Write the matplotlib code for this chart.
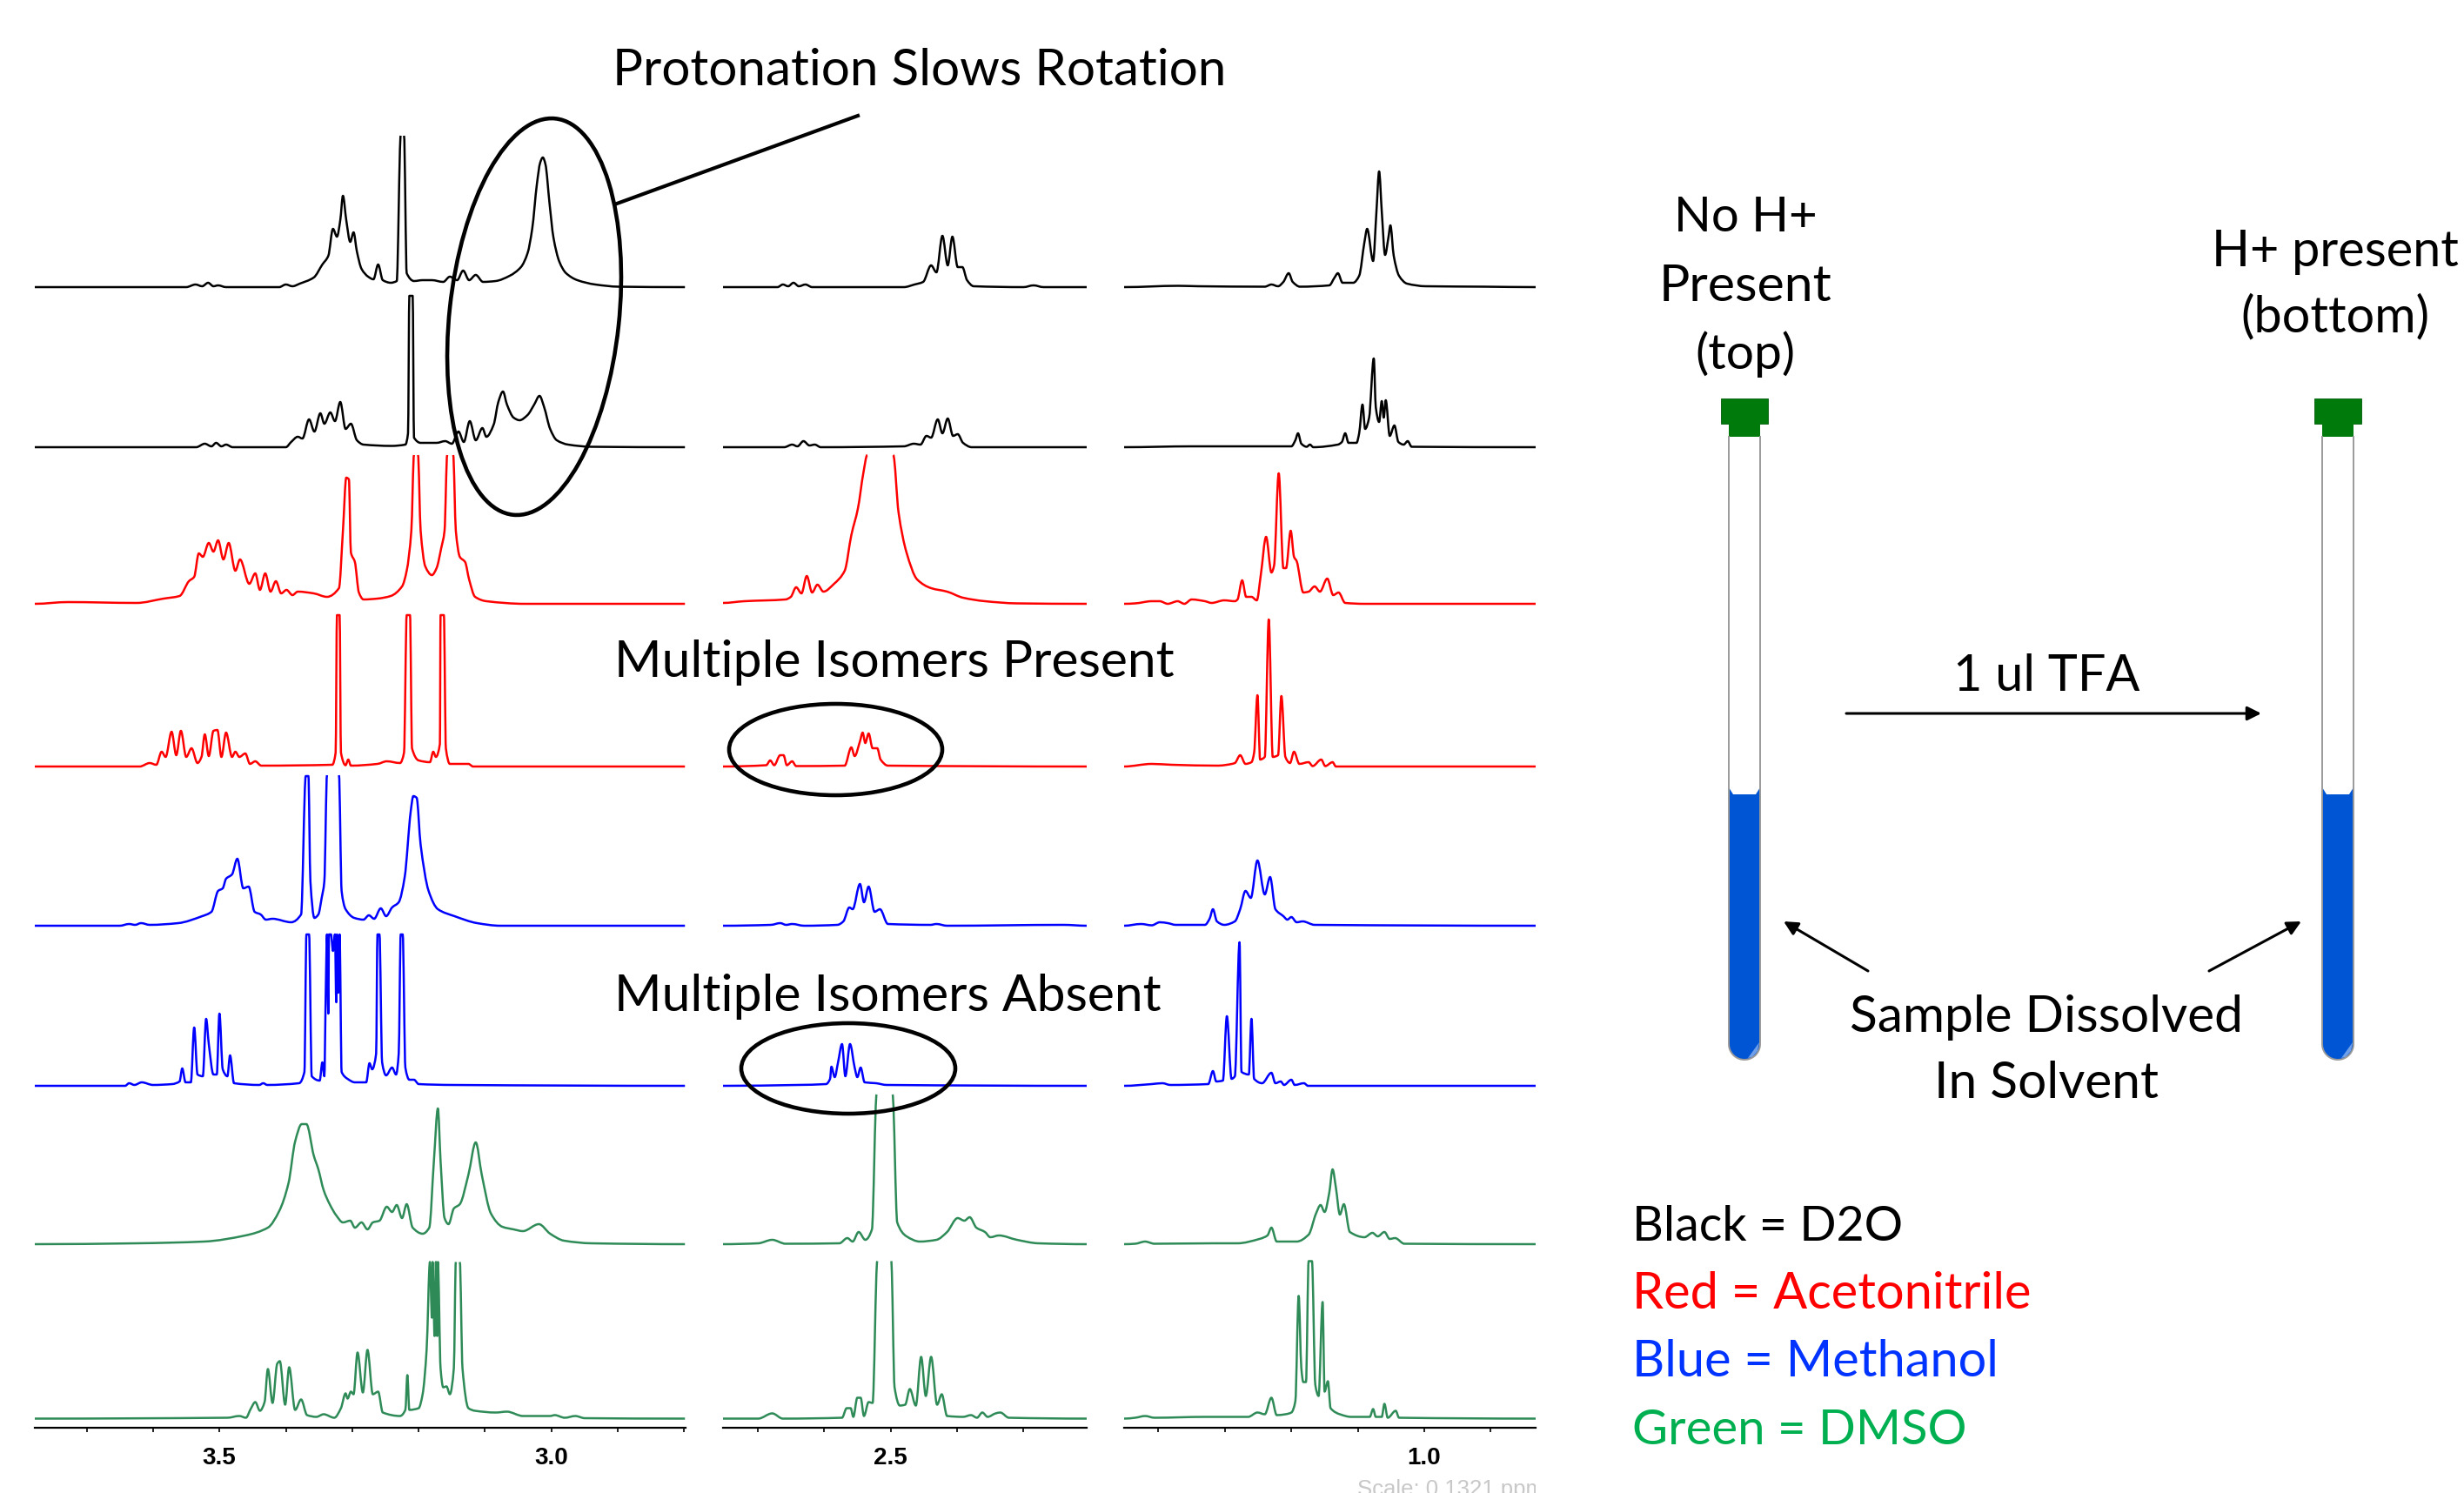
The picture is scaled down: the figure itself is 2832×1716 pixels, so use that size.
import numpy as np
import matplotlib
matplotlib.use('Agg')
import matplotlib.pyplot as plt
from matplotlib.patches import Ellipse, Polygon, Rectangle, PathPatch
from matplotlib.path import Path
from matplotlib.transforms import Bbox, TransformedBbox

nan = float('nan')
gap = (nan, nan)

# spectra: (ppm, height above the trace's own baseline)
# names: solvent, a = top trace (no acid) / b = with acid, panel 1-3
d2o_a_1 = [(3.778,0),(3.55,0),(3.536,3),(3.526,1),(3.517,5),(3.509,1),(3.502,2),(3.49,0),(3.41,0),(3.40,3),(3.39,1),(3.379,4),(3.358,11),(3.345,26),(3.336,36),(3.329,67),(3.323,58),(3.318,77),(3.314,105),(3.309,77),(3.303,52),(3.298,63),(3.293,41),(3.286,21),(3.276,12),(3.268,9),(3.261,26),(3.254,8),(3.242,5),(3.233,7),(3.227,174),gap,(3.222,174),(3.218,16),(3.207,7),(3.194,8),(3.18,8),(3.163,6),(3.153,12),(3.142,8),(3.133,19),(3.124,8),(3.114,14),(3.103,6),(3.084,7),(3.063,13),(3.046,23),(3.036,39),(3.029,67),(3.022,118),(3.017,143),(3.013,149),(3.009,141),(3.003,97),(2.997,57),(2.988,29),(2.978,16),(2.961,8),(2.934,3),(2.899,0.5),(2.799,0)]
d2o_a_2 = [(2.752,0),(2.67,0),(2.662,3),(2.654,1),(2.646,5),(2.638,1),(2.628,3),(2.618,0),(2.48,0),(2.464,3),(2.451,6),(2.439,25),(2.431,17),(2.422,59),(2.414,25),(2.407,58),(2.399,23),(2.392,23),(2.385,8),(2.375,1),(2.30,0),(2.285,2),(2.27,0),(2.205,0)]
d2o_a_3 = [(1.4516,0),(1.37,1.5),(1.34,1),(1.24,0.5),(1.23,3),(1.22,1),(1.212,6),(1.204,16),(1.198,6),(1.187,0.5),(1.143,2),(1.135,11),(1.13,16),(1.123,5),(1.107,5),(1.098,13),(1.09,52),(1.086,67),(1.077,30),(1.072,87),(1.068,133),(1.064,87),(1.059,37),(1.054,57),(1.051,71),(1.046,36),(1.038,13),(1.026,4),(0.998,1),(0.91,0.5),(0.8325,0)]

d2o_b_1 = [(3.778,0),(3.535,0),(3.522,4),(3.512,1),(3.505,5),(3.497,1),(3.49,3),(3.48,0),(3.40,0),(3.392,6),(3.382,12),(3.375,10),(3.365,32),(3.357,18),(3.348,39),(3.342,27),(3.333,40),(3.326,30),(3.318,52),(3.31,21),(3.302,27),(3.293,8),(3.283,3),(3.241,1.5),(3.22,3),(3.216,16),(3.214,174),(3.209,174),(3.207,11),(3.197,5),(3.173,5),(3.16,7),(3.15,4),(3.14,18),(3.132,6),(3.123,30),(3.114,8),(3.104,22),(3.098,12),(3.087,26),(3.08,52),(3.073,64),(3.067,49),(3.057,34),(3.048,31),(3.036,37),(3.026,49),(3.018,59),(3.011,46),(3.002,21),(2.992,8),(2.975,3),(2.94,0.5),(2.799,0)]
d2o_b_2 = [(2.752,0),(2.66,0),(2.648,3),(2.64,1),(2.631,7),(2.622,2),(2.614,3),(2.605,0),(2.48,1),(2.465,4),(2.455,3),(2.446,13),(2.439,11),(2.429,32),(2.422,16),(2.414,33),(2.406,13),(2.399,15),(2.391,5),(2.378,0),(2.205,0)]
d2o_b_3 = [(1.4516,0),(1.35,1),(1.20,1),(1.194,8),(1.19,16),(1.185,4),(1.177,0.5),(1.172,3),(1.167,0),(1.13,3),(1.124,6),(1.119,16),(1.114,5),(1.102,5),(1.098,16),(1.093,49),(1.089,21),(1.083,34),(1.076,102),(1.073,46),(1.068,29),(1.064,53),(1.061,34),(1.058,54),(1.052,13),(1.045,25),(1.039,6),(1.031,3),(1.025,7),(1.019,0.5),(0.8325,0)]

acn_a_1 = [(3.778,0),(3.728,2),(3.625,1),(3.584,6),(3.56,9),(3.546,26),(3.538,31),(3.531,58),(3.525,54),(3.516,70),(3.509,60),(3.502,73),(3.494,51),(3.486,70),(3.476,38),(3.469,51),(3.455,23),(3.446,35),(3.439,16),(3.431,35),(3.423,14),(3.415,26),(3.407,12),(3.399,16),(3.39,10),(3.382,14),(3.358,12),(3.338,8),(3.32,18),(3.314,84),(3.309,145),(3.305,143),(3.302,59),(3.296,48),(3.29,13),(3.283,5),(3.262,6),(3.242,9),(3.225,20),(3.218,38),(3.211,84),(3.207,171),gap,(3.201,171),(3.197,84),(3.19,43),(3.18,33),(3.173,41),(3.166,64),(3.161,84),(3.157,171),gap,(3.148,171),(3.144,84),(3.138,54),(3.13,48),(3.124,28),(3.115,8),(3.098,3),(3.04,0),(2.799,0)]
acn_a_2 = [(2.752,1),(2.72,3),(2.658,5),(2.65,8),(2.642,19),(2.634,12),(2.626,32),(2.618,13),(2.61,22),(2.601,14),(2.585,23),(2.569,38),(2.559,79),(2.549,110),(2.541,150),(2.535,171),gap,(2.496,171),(2.488,105),(2.476,59),(2.46,28),(2.439,18),(2.415,14),(2.391,7),(2.358,3),(2.31,0.5),(2.205,0)]
acn_a_3 = [(1.4516,0),(1.435,0.5),(1.41,3),(1.398,3),(1.386,0),(1.371,3),(1.361,0),(1.35,5),(1.33,3),(1.32,1),(1.301,4),(1.285,3),(1.281,5),(1.274,27),(1.268,8),(1.26,8),(1.252,4),(1.246,33),(1.238,77),(1.23,36),(1.226,44),(1.219,150),(1.212,41),(1.208,41),(1.201,84),(1.196,54),(1.192,49),(1.182,13),(1.174,14),(1.165,20),(1.157,14),(1.146,29),(1.137,10),(1.129,13),(1.119,1),(1.09,0),(0.8325,0)]

acn_b_1 = [(3.778,0),(3.62,0),(3.605,4),(3.595,2),(3.587,17),(3.581,11),(3.572,40),(3.565,13),(3.558,41),(3.55,11),(3.542,21),(3.533,4),(3.527,11),(3.522,37),(3.516,12),(3.509,41),(3.503,42),(3.497,11),(3.49,39),(3.481,11),(3.476,17),(3.47,11),(3.461,15),(3.454,3),(3.446,6),(3.437,1),(3.33,2),(3.325,16),(3.323,174),(3.319,174),(3.317,16),(3.31,1.5),(3.306,8),(3.302,1),(3.262,3),(3.248,6),(3.228,4),(3.222,16),(3.218,174),(3.213,174),(3.21,21),(3.2,7),(3.183,5),(3.178,17),(3.174,11),(3.168,26),(3.167,174),(3.162,174),(3.159,21),(3.153,3),(3.125,3),(3.118,0),(2.799,0)]
acn_b_2 = [(2.752,0),(2.687,1.5),(2.681,7),(2.675,1.5),(2.666,13),(2.661,13),(2.656,1.5),(2.648,6),(2.642,0.5),(2.569,1),(2.559,22),(2.554,12),(2.546,29),(2.542,39),(2.538,27),(2.533,38),(2.527,21),(2.52,21),(2.515,8),(2.504,1),(2.205,0)]
acn_b_3 = [(1.4516,0),(1.41,3),(1.38,2),(1.31,1),(1.297,2),(1.285,4),(1.277,13),(1.269,3),(1.26,5),(1.256,16),(1.251,82),(1.247,8),(1.24,11),(1.234,169),(1.228,11),(1.22,13),(1.215,81),(1.209,11),(1.202,4),(1.196,17),(1.188,3),(1.174,5),(1.168,0.5),(1.155,8),(1.149,0.5),(1.138,5),(1.133,0),(0.8325,0)]

meoh_a_1 = [(3.778,0),(3.65,0),(3.636,2),(3.627,1),(3.618,3),(3.605,1),(3.562,3),(3.526,11),(3.512,16),(3.502,40),(3.495,43),(3.49,54),(3.481,59),(3.473,77),(3.464,43),(3.456,45),(3.447,16),(3.438,13),(3.43,7),(3.42,8),(3.392,4),(3.377,13),(3.37,172),(3.366,172),(3.363,51),(3.357,9),(3.351,13),(3.346,32),(3.342,51),(3.338,173),gap,(3.32,173),(3.316,40),(3.31,19),(3.297,9),(3.283,7),(3.275,12),(3.267,8),(3.257,20),(3.249,11),(3.24,21),(3.23,27),(3.221,56),(3.212,131),(3.208,149),(3.203,147),(3.197,93),(3.185,40),(3.171,19),(3.146,11),(3.112,3),(3.077,0),(2.799,0)]
meoh_a_2 = [(2.752,0),(2.68,1),(2.666,3),(2.657,1),(2.648,2),(2.63,0),(2.58,1),(2.571,5),(2.562,21),(2.557,19),(2.546,48),(2.54,27),(2.533,45),(2.524,16),(2.516,19),(2.504,2),(2.44,1),(2.431,2),(2.415,0),(2.24,1),(2.205,0)]
meoh_a_3 = [(1.4516,0),(1.426,2),(1.41,0.5),(1.398,4),(1.386,3),(1.374,1),(1.33,1),(1.323,8),(1.318,19),(1.312,5),(1.301,1),(1.285,5),(1.277,19),(1.269,40),(1.261,32),(1.251,75),(1.24,36),(1.232,56),(1.224,19),(1.212,11),(1.206,7),(1.2,10),(1.192,4),(1.183,5),(1.165,1),(0.8325,0)]

meoh_b_1 = [(3.778,0),(3.642,0),(3.636,3),(3.628,1),(3.617,4),(3.60,1),(3.571,2),(3.56,5),(3.556,20),(3.551,4),(3.543,4),(3.538,67),(3.533,13),(3.525,11),(3.52,77),(3.516,48),(3.509,13),(3.504,13),(3.5,83),(3.495,19),(3.488,11),(3.484,35),(3.478,3),(3.44,1),(3.434,3),(3.428,1),(3.38,3),(3.372,16),(3.369,174),(3.365,174),(3.361,11),(3.349,6),(3.345,27),(3.342,11),(3.34,101),(3.338,174),(3.336,83),(3.335,174),(3.332,174),(3.329,155),(3.326,174),(3.324,96),(3.323,174),(3.321,107),(3.319,174),(3.316,16),(3.307,8),(3.296,4),(3.279,4),(3.274,26),(3.27,19),(3.264,37),(3.262,174),(3.259,174),(3.255,27),(3.249,12),(3.24,21),(3.234,13),(3.23,37),(3.227,174),(3.224,174),(3.22,21),(3.214,7),(3.207,7),(3.2,2),(3.15,1),(2.799,0)]
meoh_b_2 = [(2.752,0),(2.64,1),(2.597,2),(2.591,8),(2.589,22),(2.584,10),(2.579,27),(2.573,48),(2.568,11),(2.561,48),(2.554,21),(2.55,10),(2.545,21),(2.539,4),(2.522,3),(2.506,1),(2.205,0)]
meoh_b_3 = [(1.4516,0),(1.41,2),(1.394,3),(1.382,1),(1.325,2),(1.318,17),(1.313,5),(1.303,6),(1.297,80),(1.29,8),(1.285,11),(1.278,165),(1.275,16),(1.264,13),(1.26,77),(1.256,8),(1.244,3),(1.23,15),(1.224,3),(1.216,5),(1.211,1),(1.2,7),(1.195,1),(1.181,3),(1.175,0),(0.8325,0)]

dmso_a_1 = [(3.778,0),(3.625,1),(3.523,3),(3.461,10),(3.427,19),(3.41,38),(3.396,70),(3.386,118),(3.376,138),(3.369,138),(3.358,102),(3.351,86),(3.343,62),(3.334,46),(3.324,33),(3.314,25),(3.303,27),(3.296,19),(3.286,25),(3.277,17),(3.269,25),(3.259,27),(3.248,43),(3.24,37),(3.233,45),(3.225,30),(3.218,46),(3.209,19),(3.194,12),(3.184,19),(3.177,96),(3.171,156),(3.167,96),(3.161,30),(3.155,23),(3.147,41),(3.138,46),(3.125,80),(3.114,117),(3.105,80),(3.091,35),(3.074,20),(3.057,17),(3.043,15),(3.019,23),(3.002,12),(2.981,4),(2.94,1),(2.799,0)]
dmso_a_2 = [(2.752,0),(2.699,1),(2.678,5),(2.658,0.5),(2.577,1),(2.565,7),(2.557,3),(2.548,14),(2.538,5),(2.528,17),(2.521,172),gap,(2.497,172),(2.49,25),(2.476,9),(2.456,3),(2.431,5),(2.415,14),(2.399,30),(2.389,27),(2.381,31),(2.371,19),(2.358,14),(2.35,8),(2.337,10),(2.31,5),(2.278,1),(2.205,0)]
dmso_a_3 = [(1.4516,0),(1.435,0.5),(1.42,3),(1.406,0.5),(1.317,1),(1.281,1),(1.248,6),(1.236,10),(1.23,19),(1.222,3),(1.192,3),(1.174,11),(1.163,35),(1.156,45),(1.15,37),(1.143,59),(1.138,86),(1.133,65),(1.127,34),(1.121,46),(1.112,14),(1.09,8),(1.078,13),(1.07,9),(1.06,14),(1.052,6),(1.044,7),(1.03,0.5),(0.8325,0)]

dmso_b_1 = [(3.778,0),(3.488,1),(3.47,3),(3.46,1),(3.453,11),(3.446,19),(3.439,9),(3.432,19),(3.427,57),(3.42,18),(3.413,63),(3.409,66),(3.401,16),(3.395,59),(3.386,10),(3.377,22),(3.368,4),(3.354,2),(3.343,5),(3.327,1),(3.317,12),(3.31,29),(3.307,23),(3.302,31),(3.298,28),(3.292,76),(3.284,30),(3.277,79),(3.269,28),(3.261,31),(3.254,7),(3.228,3),(3.22,10),(3.217,50),(3.214,10),(3.2,12),(3.194,28),(3.188,79),(3.183,180),(3.18,116),(3.179,180),(3.176,95),(3.174,180),(3.172,95),(3.171,180),(3.167,58),(3.163,36),(3.158,37),(3.153,28),(3.147,58),(3.144,180),gap,(3.138,180),(3.134,58),(3.125,12),(3.115,9),(3.084,7),(3.067,8),(3.043,3),(3.002,3),(2.995,4),(2.98,1),(2.964,3),(2.95,0.5),(2.799,0)]
dmso_b_2 = [(2.752,0),(2.699,0),(2.678,6),(2.662,0),(2.573,1),(2.566,12),(2.56,12),(2.556,2),(2.55,24),(2.545,24),(2.54,3),(2.533,19),(2.527,18),(2.52,181),gap,(2.499,181),(2.494,36),(2.486,15),(2.478,16),(2.471,34),(2.462,15),(2.454,71),(2.447,26),(2.439,71),(2.43,16),(2.423,28),(2.415,3),(2.391,2),(2.379,4),(2.37,1),(2.362,7),(2.354,2),(2.342,6),(2.335,7),(2.322,1),(2.205,0)]
dmso_b_3 = [(1.4516,0),(1.435,1),(1.42,3),(1.406,1),(1.33,2),(1.281,2),(1.265,2),(1.251,7),(1.24,5),(1.23,24),(1.222,4),(1.209,5),(1.2,7),(1.194,20),(1.189,141),(1.185,58),(1.182,42),(1.178,42),(1.174,181),(1.169,181),(1.164,39),(1.159,26),(1.153,134),(1.15,31),(1.145,43),(1.141,12),(1.127,5),(1.11,2),(1.082,2),(1.077,11),(1.073,2),(1.064,2),(1.06,17),(1.055,1),(1.043,9),(1.038,1),(0.8325,0)]

panel_1 = [d2o_a_1, d2o_b_1, acn_a_1, acn_b_1, meoh_a_1, meoh_b_1, dmso_a_1, dmso_b_1]
panel_2 = [d2o_a_2, d2o_b_2, acn_a_2, acn_b_2, meoh_a_2, meoh_b_2, dmso_a_2, dmso_b_2]
panel_3 = [d2o_a_3, d2o_b_3, acn_a_3, acn_b_3, meoh_a_3, meoh_b_3, dmso_a_3, dmso_b_3]

trace_colors = ['black', 'black', '#ff0000', '#ff0000', '#0000ff', '#0000ff', '#2e8b57', '#2e8b57']
ticks_1 = [3.7, 3.6, 3.5, 3.4, 3.3, 3.2, 3.1, 3.0, 2.9, 2.8]
ticks_2 = [2.7, 2.6, 2.5, 2.4, 2.3]
ticks_3 = [1.4, 1.3, 1.2, 1.1, 1.0, 0.9]
labels_1 = ['', '', '3.5', '', '', '', '', '3.0', '', '']
labels_2 = ['', '', '2.5', '', '']
labels_3 = ['', '', '', '', '1.0', '']

legend_text = ['Black = D2O', 'Red = Acetonitrile', 'Blue = Methanol', 'Green = DMSO']
legend_colors = ['black', '#ff0000', '#0033ff', '#00b050']
legend_sizes = [40, 41.6, 41.6, 40.5]

W, H = 2832, 1716
plt.rcParams['font.family'] = ['Lato', 'DejaVu Sans']
fig = plt.figure(figsize=(W / 100, H / 100), dpi=100)


def trace_path(ppm, val):
    # rounds the corners of the read points: the curve still passes through each of them
    verts, codes = [], []
    ppm, val = np.array(ppm), np.array(val)
    breaks = np.where(np.isnan(ppm))[0]
    starts = [0] + list(breaks + 1)
    ends = list(breaks) + [len(ppm)]
    for a, b in zip(starts, ends):
        x, y = ppm[a:b], val[a:b]
        dx = np.diff(x)
        s = np.diff(y) / dx
        m = np.zeros(len(x))
        for i in range(1, len(x) - 1):
            if s[i - 1] * s[i] > 0:
                m[i] = 2 * s[i - 1] * s[i] / (s[i - 1] + s[i])
        verts.append((x[0], y[0]))
        codes.append(Path.MOVETO)
        for i in range(len(dx)):
            verts.append((x[i] + dx[i] / 3, y[i] + m[i] * dx[i] / 3))
            verts.append((x[i + 1] - dx[i] / 3, y[i + 1] - m[i + 1] * dx[i] / 3))
            verts.append((x[i + 1], y[i + 1]))
            codes += [Path.CURVE4, Path.CURVE4, Path.CURVE4]
    return Path(verts, codes)


# one axes per ppm window, y is in pixels above the x axis line
axis_y = 1641
top_y = 100
baselines = [330, 514, 694, 881, 1064, 1248, 1430, 1630.5]
windows = [(40, 788, 3.778, 2.798, panel_1, ticks_1, labels_1),
           (831, 1249, 2.752, 2.205, panel_2, ticks_2, labels_2),
           (1292, 1765, 1.4516, 0.8325, panel_3, ticks_3, labels_3)]
for x0, x1, ppm_l, ppm_r, traces, ticks, labels in windows:
    ax = fig.add_axes([x0 / W, (H - axis_y) / H, (x1 - x0) / W, (axis_y - top_y) / H])
    ax.patch.set_alpha(0)
    for pts, col, base in zip(traces, trace_colors, baselines):
        ppm = [p[0] for p in pts]
        val = [p[1] + axis_y - base for p in pts]
        ax.add_patch(PathPatch(trace_path(ppm, val), fill=False, ec=col, lw=1.8, joinstyle='round'))
    ax.set_xlim(ppm_l, ppm_r)
    ax.set_ylim(0, axis_y - top_y)
    ax.set_yticks([])
    ax.set_xticks(ticks)
    ax.set_xticklabels(labels, fontfamily='Liberation Sans', fontweight='bold', fontsize=20)
    ax.tick_params(axis='x', length=3.5, width=1.4, pad=12, color='#222222')
    for s in ['top', 'left', 'right']:
        ax.spines[s].set_visible(False)
    ax.spines['bottom'].set_linewidth(1.6)

# overlay in picture pixels for the annotations and the tubes
ov = fig.add_axes([0, 0, 1, 1])
ov.set_xlim(0, W)
ov.set_ylim(H, 0)
ov.axis('off')
ov.patch.set_alpha(0)

ov.add_patch(Ellipse((614, 364), 195, 458, angle=6.1, fill=False, ec='black', lw=3.3))
ov.add_patch(Ellipse((960.5, 861.5), 245, 105, fill=False, ec='black', lw=3.3))
ov.add_patch(Ellipse((975, 1228), 246, 104, fill=False, ec='black', lw=3.3))
ov.plot([709, 986], [234, 133], color='black', lw=3.0)

txt_size = 42.3
dy = 4
ov.text(704, 78 + dy, 'Protonation Slows Rotation', fontsize=42, ha='left', va='center')
ov.text(706, 758 + dy, 'Multiple Isomers Present', fontsize=txt_size, ha='left', va='center')
ov.text(706, 1141 + dy, 'Multiple Isomers Absent', fontsize=txt_size, ha='left', va='center')
for s, y, fs in zip(['No H+', 'Present', '(top)'], [247, 325, 403], [40.5, 42.5, 41]):
    ov.text(2006, y + dy, s, fontsize=fs, ha='center', va='center')
for s, y in zip(['H+ present', '(bottom)'], [285, 361]):
    ov.text(2684, y + dy, s, fontsize=41.5, ha='center', va='center')
ov.text(2352, 773 + dy, '1 ul TFA', fontsize=41.5, ha='center', va='center')
for s, y in zip(['Sample Dissolved', 'In Solvent'], [1165, 1241]):
    ov.text(2352, y + dy, s, fontsize=42.2, ha='center', va='center')
for s, c, y, fs in zip(legend_text, legend_colors, [1407, 1484, 1562, 1640], legend_sizes):
    ov.text(1876, y + dy, s, color=c, fontsize=fs, ha='left', va='center')

scale = ov.text(1560, 1712, 'Scale: 0.1321 ppm', color='#c8c8c8', fontsize=18.5,
                fontfamily='Liberation Sans', ha='left', va='center')
scale.set_clip_box(TransformedBbox(Bbox([[1500, 1690], [1765, 1716]]), ov.transData))
scale.set_clip_on(True)

arrow = dict(arrowstyle='-|>', color='black', lw=2.2, mutation_scale=24, shrinkA=0, shrinkB=0)
ov.annotate('', xy=(2599, 820), xytext=(2122, 820), arrowprops=arrow)
ov.annotate('', xy=(2050, 1059), xytext=(2147, 1116), arrowprops=arrow)
ov.annotate('', xy=(2645, 1059), xytext=(2539, 1116), arrowprops=arrow)


def draw_tube(xl):
    xr = xl + 36
    r = 18
    cx = xl + r
    bottom_cy = 1200
    ang = np.linspace(np.pi, 0, 30)
    arc_x = cx + r * np.cos(ang)
    arc_y = bottom_cy + r * np.sin(ang)
    # liquid, the top edge dips in the middle
    top_x = [xr, xr - 5, xl + 5, xl]
    top_y_ = [905, 913, 913, 905]
    ov.add_patch(Polygon(list(zip(arc_x, arc_y)) + list(zip(top_x, top_y_)),
                         closed=True, fc='#0055d4', ec='none'))
    # lighter glint on the bottom right
    ov.add_patch(Polygon([(xr - 1, 1198), (xr - 3, 1208), (xr - 9, 1215), (xr - 14, 1216)],
                         closed=True, fc='#6f9fe8', ec='none'))
    # glass
    ov.plot([xl, xl] + list(arc_x) + [xr, xr], [502, bottom_cy] + list(arc_y) + [bottom_cy, 502],
            color='#9a9a9a', lw=1.4)
    # cap
    ov.add_patch(Rectangle((xl - 9, 458), 54, 29, fc='#007a0a', ec='#005a08', lw=0.6))
    ov.add_patch(Rectangle((xl, 487), 36, 15, fc='#007a0a', ec='none'))


draw_tube(1987)
draw_tube(2669)

fig.savefig('out.png', dpi=100, facecolor='white')
